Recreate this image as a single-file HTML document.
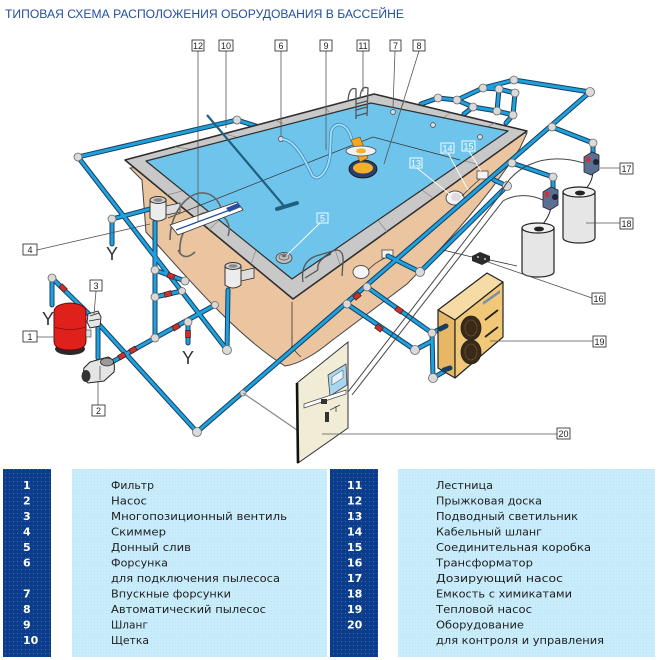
<!DOCTYPE html>
<html><head><meta charset="utf-8"><style>
html,body{margin:0;padding:0;background:#fff;}
svg{display:block}
.po{fill:none;stroke:#163e60;stroke-width:5;stroke-linecap:round;stroke-linejoin:round}
.pi{fill:none;stroke:#1ea1dd;stroke-width:3;stroke-linecap:round;stroke-linejoin:round}
.jt{fill:#dadada;stroke:#6a6a6a;stroke-width:.8}
.ld{fill:none;stroke:#555;stroke-width:.8}
.lb{fill:#fff;stroke:#222;stroke-width:.8}
.lt{font-family:"Liberation Sans","DejaVu Sans",sans-serif;font-size:9px;fill:#222;text-anchor:middle}
.wt{font-family:"Liberation Sans","DejaVu Sans",sans-serif;font-size:9px;fill:#fff;text-anchor:middle}
.lg{font-family:"DejaVu Sans","Liberation Sans",sans-serif;font-size:11px;fill:#1e1e1e}
.nm{font-family:"DejaVu Sans","Liberation Sans",sans-serif;font-size:11px;fill:#fff;font-weight:bold}
.vl{fill:#c8302c;stroke:#3a1010;stroke-width:.6}
</style></head><body>
<svg width="660" height="660" viewBox="0 0 660 660" xmlns="http://www.w3.org/2000/svg">
<defs>
<pattern id="dots" width="4" height="4" patternUnits="userSpaceOnUse">
<rect width="4" height="4" fill="#0b3d8c"/>
<rect x="1" y="1" width="1" height="1" fill="#3b6cb3"/>
</pattern>
<pattern id="lite" width="3" height="3" patternUnits="userSpaceOnUse">
<rect width="3" height="3" fill="#c9ecfb"/>
<rect x="1" y="1" width="1" height="1" fill="#b9e3f7"/>
</pattern>
</defs>
<rect width="660" height="660" fill="#fff"/>

<!-- Title -->
<text x="5" y="18" font-family="Liberation Sans, DejaVu Sans, sans-serif" font-size="11.5" fill="#234f9a" textLength="399" lengthAdjust="spacingAndGlyphs">ТИПОВАЯ СХЕМА РАСПОЛОЖЕНИЯ ОБОРУДОВАНИЯ В БАССЕЙНЕ</text>

<!-- pipes behind deck (top left and jets manifold) -->
<path class="po" d="M78,157 L237,120 L256,126 M590,92 L514,80 L483,88 L457,100 L438,98 L421,104 M457,100 L473,107 L497,111 L513,115 L506,123 M483,88 L499,89 L515,93 L513,115 M499,89 L497,111 M473,107 L464,114"/>
<path class="pi" d="M78,157 L237,120 L256,126 M590,92 L514,80 L483,88 L457,100 L438,98 L421,104 M457,100 L473,107 L497,111 L513,115 L506,123 M483,88 L499,89 L515,93 L513,115 M499,89 L497,111 M473,107 L464,114"/>

<!-- Wall -->
<path d="M130,168 L142,180 L146,232 C185,275 235,335 285,366 C300,364 318,352 330,342 L407,284 C450,240 490,195 520,148 L527,133 Z" fill="#eac5a0" stroke="#444" stroke-width="1"/>
<path d="M292,302 L292,346 M292,346 Q290,352 283,357 M292,346 Q295,352 301,357" stroke="#333" fill="none" stroke-width="0.8"/>

<!-- Deck -->
<path d="M125,160 L374,94 L527,131 L293,299 Z" fill="#c8c8c8" stroke="#2e2e2e" stroke-width="1.6" stroke-linejoin="round"/>
<path d="M167,195 L182,191 M209,230 L219,220 M251,264 L256,250 M340,265 L335,249 M387,232 L378,220 M433,198 L422,190 M480,165 L465,161 M175,147 L190,149 M225,134 L236,137 M275,120 L283,124 M325,107 L329,112 M405,101 L401,108 M450,113 L443,118 M495,123 L487,127" stroke="#8a8a8a" stroke-width=".7"/>
<!-- Water -->
<path d="M146,161 L371,103 L508,131 L292,279 Z" fill="#6fc4ec" stroke="#2e2e2e" stroke-width="1.2" stroke-linejoin="round"/>
<path d="M168,218 L373,137 L460,160" stroke="#333" stroke-width=".7" fill="none"/>

<!-- jets -->
<g fill="#dcdcdc" stroke="#444" stroke-width=".7">
<circle cx="281" cy="139" r="2.6"/><circle cx="393" cy="112" r="2.4"/><circle cx="433" cy="125" r="2.4"/><circle cx="480" cy="137" r="2.4"/>
</g>
<!-- drain -->
<ellipse cx="284" cy="258" rx="8" ry="5.5" fill="#bdbdbd" stroke="#444" stroke-width=".8"/>
<ellipse cx="284" cy="257" rx="5" ry="3" fill="none" stroke="#555" stroke-width=".7"/>
<ellipse cx="284" cy="256" rx="2" ry="1.2" fill="#666"/>

<!-- brush 10 -->
<path d="M207,115 L284,206" stroke="#1f5f80" stroke-width="2.2"/>
<path d="M277,209 L297,203" stroke="#1f5f80" stroke-width="4" stroke-linecap="round"/>

<!-- hose 9 -->
<path d="M282,139 C295,140 305,160 312,175 C318,183 328,172 330,155 L331,132 C334,121 348,121 352,141" fill="none" stroke="#3b8fc4" stroke-width="3.4"/>
<path d="M282,139 C295,140 305,160 312,175 C318,183 328,172 330,155 L331,132 C334,121 348,121 352,141" fill="none" stroke="#a9def6" stroke-width="1.8"/>

<!-- cleaner 8 -->
<ellipse cx="363" cy="169" rx="14" ry="9" fill="#2a3f6c" stroke="#111" stroke-width=".8"/>
<ellipse cx="363" cy="168" rx="10" ry="5.5" fill="#f4b02a"/>
<path d="M351,140 L360,137 L368,158 L360,162 Z" fill="#f2a623" stroke="#6a4a10" stroke-width=".6"/>
<ellipse cx="361" cy="151" rx="15" ry="5" fill="#eef2f4" stroke="#445" stroke-width=".8"/>
<ellipse cx="361" cy="151" rx="5" ry="2.5" fill="#f4b02a"/>

<!-- ladder 11 -->
<path d="M348,101 Q349,86 356,89 L356,119 M360,98 Q361,85 368,88 L367,116 M356,104 L367,101 M356,110 L367,107 M356,116 L367,113" stroke="#555" stroke-width="1.3" fill="none"/>
<!-- ladder front -->
<path d="M303,282 Q300,262 316,256 L336,250 Q344,250 343,262 L342,276 M318,270 Q316,260 331,254 M305,278 L318,270" stroke="#555" stroke-width="1.3" fill="none"/>

<!-- lights / boxes -->
<ellipse cx="455" cy="198" rx="9" ry="7" fill="#f5f5f5" stroke="#555" stroke-width="1"/>
<ellipse cx="456" cy="197" rx="5" ry="4" fill="#dcdcdc"/>
<ellipse cx="361" cy="272" rx="8" ry="6.5" fill="#f5f5f5" stroke="#555" stroke-width="1"/>
<path d="M462,196 Q472,186 480,179 M368,270 Q376,262 385,258" stroke="#333" stroke-width=".8" fill="none"/>
<rect x="477" y="171" width="11" height="8" fill="#f3f3f3" stroke="#444" stroke-width=".8"/>
<rect x="382" y="250" width="11" height="8" fill="#f3f3f3" stroke="#444" stroke-width=".8"/>

<!-- main pipes in front -->
<path class="po" d="M78,157 L227,350 L228,290 M150,209 L112,219 L112,244 M155,222 L155,338 L112,362 M155,270 L185,281 M155,297 L182,291 M155,338 L215,305 M188,322 L188,343 M52,305 L52,278 L95,320 L197,432 L590,92 M367,287 L432,333 L446,326 M347,304 L415,350 L432,341 M432,333 L433,378 L450,368 M388,256 L420,272 L507,186 L494,180 M552,127 L593,143 L593,155 M512,163 L553,177 L553,190 M98,328 L98,358"/>
<path class="pi" d="M78,157 L227,350 L228,290 M150,209 L112,219 L112,244 M155,222 L155,338 L112,362 M155,270 L185,281 M155,297 L182,291 M155,338 L215,305 M188,322 L188,343 M52,305 L52,278 L95,320 L197,432 L590,92 M367,287 L432,333 L446,326 M347,304 L415,350 L432,341 M432,333 L433,378 L450,368 M388,256 L420,272 L507,186 L494,180 M552,127 L593,143 L593,155 M512,163 L553,177 L553,190 M98,328 L98,358"/>

<!-- joints -->
<g class="jt">
<circle cx="78" cy="157" r="4"/><circle cx="237" cy="120" r="4"/><circle cx="112" cy="219" r="4"/><circle cx="155" cy="270" r="4"/><circle cx="155" cy="297" r="4"/><circle cx="155" cy="338" r="4"/><circle cx="185" cy="281" r="4"/><circle cx="182" cy="291" r="3.5"/><circle cx="227" cy="350" r="4.5"/><circle cx="197" cy="432" r="4.5"/><circle cx="347" cy="304" r="4"/><circle cx="367" cy="287" r="4"/><circle cx="415" cy="350" r="4.5"/><circle cx="432" cy="333" r="4"/><circle cx="433" cy="378" r="4.5"/><circle cx="420" cy="272" r="4.5"/><circle cx="507" cy="186" r="4.5"/><circle cx="590" cy="92" r="4.5"/><circle cx="514" cy="80" r="4"/><circle cx="483" cy="88" r="4"/><circle cx="457" cy="100" r="4"/><circle cx="438" cy="98" r="4"/><circle cx="473" cy="107" r="4"/><circle cx="497" cy="111" r="4"/><circle cx="513" cy="115" r="4"/><circle cx="499" cy="89" r="4"/><circle cx="515" cy="93" r="4"/><circle cx="552" cy="127" r="4"/><circle cx="512" cy="163" r="4"/><circle cx="593" cy="143" r="4"/><circle cx="553" cy="177" r="4"/><circle cx="52" cy="278" r="4"/><circle cx="188" cy="322" r="4"/><circle cx="243" cy="393" r="3"/><circle cx="215" cy="305" r="3.5"/>
</g>
<!-- valves -->
<g class="vl">
<rect x="-3.5" y="-2.5" width="7" height="5" transform="translate(63,288) rotate(45)"/>
<rect x="-3.5" y="-2.5" width="7" height="5" transform="translate(171,276) rotate(20)"/>
<rect x="-3.5" y="-2.5" width="7" height="5" transform="translate(168,294) rotate(-15)"/>
<rect x="-3.5" y="-2.5" width="7" height="5" transform="translate(176,327) rotate(-30)"/>
<rect x="-3.5" y="-2.5" width="7" height="5" transform="translate(133,350) rotate(-30)"/>
<rect x="-3.5" y="-2.5" width="7" height="5" transform="translate(122,356) rotate(-30)"/>
<rect x="-3.5" y="-2.5" width="7" height="5" transform="translate(188,334) rotate(90)"/>
<rect x="-3.5" y="-2.5" width="7" height="5" transform="translate(379,328) rotate(35)"/>
<rect x="-3.5" y="-2.5" width="7" height="5" transform="translate(399,310) rotate(35)"/>
<rect x="-3.5" y="-2.5" width="7" height="5" transform="translate(357,296) rotate(-40)"/>
</g>

<!-- Y symbols -->
<g font-family="Liberation Sans, DejaVu Sans, sans-serif" font-size="18" fill="#333" text-anchor="middle">
<text x="112" y="260">Y</text><text x="48" y="325">Y</text><text x="188" y="364">Y</text>
</g>

<!-- skimmers -->
<g stroke="#333" stroke-width="1">
<path d="M166,206 L180,203 L180,212 L166,215 Z" fill="#ddd" stroke-width=".8"/>
<path d="M150,200 L150,218 Q158,224 166,218 L166,200 Z" fill="#ececec"/>
<ellipse cx="158" cy="200" rx="8" ry="3.5" fill="#cfcfcf"/>
<ellipse cx="158" cy="200" rx="4.5" ry="1.8" fill="#888" stroke="none"/>
<path d="M241,271 L254,268 L254,278 L241,281 Z" fill="#ddd" stroke-width=".8"/>
<path d="M225,266 L225,285 Q233,291 241,285 L241,266 Z" fill="#ececec"/>
<ellipse cx="233" cy="266" rx="8" ry="3.5" fill="#cfcfcf"/>
<ellipse cx="233" cy="266" rx="4.5" ry="1.8" fill="#888" stroke="none"/>
</g>

<!-- diving board -->
<path d="M170,240 C170,215 185,195 200,193 C215,192 222,205 222,215 M180,254 C178,230 195,212 210,212 C225,212 232,225 228,236 M178,250 Q184,262 195,252" stroke="#666" stroke-width="1.6" fill="none"/>
<path d="M170,225 L237,202 L243,210 L178,235 Z" fill="#fff" stroke="#333" stroke-width=".8"/>
<path d="M176,230 L238,207" stroke="#2a4fa0" stroke-width="1.2"/>
<path d="M226,208 L238,203 L241,207 L229,212 Z" fill="#2a4fa0"/>

<!-- filter 1 -->
<ellipse cx="70" cy="349" rx="15" ry="6" fill="#2a2a2a"/>
<path d="M54,312 Q54,304 70,303 Q86,304 86,312 L86,341 Q86,350 70,350 Q54,350 54,341 Z" fill="#e0201b" stroke="#6a0808" stroke-width="1"/>
<path d="M54,327 Q70,332 86,327" stroke="#8b0c0a" fill="none" stroke-width=".8"/>
<rect x="86" y="330" width="5" height="7" fill="#ddd" stroke="#333" stroke-width=".6"/>
<!-- valve 3 -->
<path d="M88,314 L98,311 L101,317 L100,326 L90,328 L87,322 Z" fill="#e6e6e6" stroke="#222" stroke-width=".9"/>
<path d="M90,316 L99,313 M89,321 L100,319" stroke="#222" stroke-width=".8"/>
<!-- pump 2 -->
<path d="M90,362 L108,357 Q116,360 114,372 L104,381 L88,383 Q82,377 84,368 Z" fill="#e4e4e4" stroke="#222" stroke-width="1"/>
<ellipse cx="86" cy="376" rx="4.5" ry="6" fill="#333"/>
<ellipse cx="107" cy="362" rx="6.5" ry="4" fill="#9a9a9a" stroke="#222" stroke-width=".8"/>
<path d="M100,366 L100,380" stroke="#555" stroke-width=".8"/>

<!-- heat pump 19 -->
<path d="M438,310 L487,273 L503,282 L455,320 Z" fill="#f7dba4" stroke="#222" stroke-width="1.2" stroke-linejoin="round"/>
<path d="M438,310 L455,320 L455,378 L438,368 Z" fill="#e6b866" stroke="#222" stroke-width="1.2" stroke-linejoin="round"/>
<path d="M455,320 L503,282 L503,337 L455,378 Z" fill="#f0c878" stroke="#222" stroke-width="1.2" stroke-linejoin="round"/>
<ellipse cx="471" cy="328" rx="10" ry="12" fill="#3b2a18" stroke="#222" stroke-width=".8"/>
<ellipse cx="471" cy="328" rx="6" ry="8" fill="none" stroke="#6b5030" stroke-width=".8"/>
<ellipse cx="471" cy="352" rx="10" ry="12" fill="#3b2a18" stroke="#222" stroke-width=".8"/>
<ellipse cx="471" cy="352" rx="6" ry="8" fill="none" stroke="#6b5030" stroke-width=".8"/>
<path d="M485,320 L498,310 M485,337 L498,327" stroke="#222" stroke-width="1.8"/>
<path d="M483,302 L500,290 L500,293 L483,305 Z" fill="#7a8fb0"/>
<path class="po" d="M440,329 L446,326 M444,370 L450,368"/>

<!-- transformer 16 -->
<path d="M443,250 L472,257 M490,260 L517,266" stroke="#333" stroke-width=".8"/>
<path d="M472,256 L480,252 L490,256 L490,261 L482,265 L472,261 Z" fill="#2b2b2b"/>
<circle cx="478" cy="257" r="1" fill="#ccc"/><circle cx="485" cy="259" r="1" fill="#ccc"/>

<!-- cables -->
<path d="M348,392 L500,195 C510,170 540,150 584,163 M352,395 L503,201 C515,194 530,194 543,200" stroke="#444" stroke-width="1" fill="none"/>
<path d="M593,172 Q592,185 581,193 M551,208 Q548,220 539,228" stroke="#222" stroke-width="1" fill="none"/>
<path d="M243,393 L297,430 L330,412" stroke="#888" stroke-width="1.2" fill="none"/>

<!-- tanks 18 -->
<path d="M563,192 L563,238 A16,5 0 0 0 595,238 L595,192 Z" fill="#e6e6e6" stroke="#222" stroke-width="1.2"/>
<ellipse cx="579" cy="192" rx="16" ry="5" fill="#f0f0f0" stroke="#222" stroke-width="1.2"/>
<ellipse cx="580" cy="193" rx="5" ry="2.4" fill="#222"/>
<path d="M522,228 L522,272 A16,5 0 0 0 554,272 L554,228 Z" fill="#e6e6e6" stroke="#222" stroke-width="1.2"/>
<ellipse cx="538" cy="228" rx="16" ry="5" fill="#f0f0f0" stroke="#222" stroke-width="1.2"/>
<ellipse cx="539" cy="229" rx="5" ry="2.4" fill="#222"/>

<!-- dosing pumps 17 -->
<path d="M584,157 L592,152 L599,155 L599,170 L591,175 L584,172 Z" fill="#5b6f92" stroke="#223" stroke-width=".8"/>
<rect x="586" y="157" width="4" height="5" fill="#c33"/>
<circle cx="596" cy="162" r="3" fill="#1c2538"/>
<path d="M543,192 L551,187 L558,190 L558,205 L550,210 L543,207 Z" fill="#5b6f92" stroke="#223" stroke-width=".8"/>
<rect x="545" y="192" width="4" height="5" fill="#c33"/>
<circle cx="555" cy="197" r="3" fill="#1c2538"/>

<!-- control panel 20 -->
<path d="M297,383 L348,342 L348,428 L298,463 Z" fill="#f1ecd6" stroke="#333" stroke-width="1"/>
<path d="M297,383 L298,463" stroke="#111" stroke-width="2.6"/>
<path d="M328,375 L346,364 L347,385 L330,396 Z" fill="#a6d6f0" stroke="#444" stroke-width=".8"/>
<path d="M332,377 L343,370 L343,378 L332,385 Z" fill="#e6f3fa" stroke="#444" stroke-width=".5"/>
<path d="M304,404 L346,390 L346,394 L304,408 Z" fill="#fff" stroke="#444" stroke-width=".7"/>
<rect x="321" y="399" width="6" height="5" fill="#333"/>
<rect x="325" y="412" width="4" height="10" fill="#333"/>
<path d="M330,410 L340,405 M336,406 L336,412" stroke="#444" stroke-width=".8"/>

<!-- leader lines -->
<path class="ld" d="M198,51 L198,222 M226,51 L226,128 M281,51 L281,136 M326,51 L326,150 M363,51 L363,92 M395,51 L393,108 M419,51 L384,164 M37,250 L150,224 M37,337 L55,337 M96,291 L94,314 M98,405 L98,382 M600,168 L620,168 M586,223 L620,223 M488,262 L592,298 M490,341 L593,341 M322,434 L557,434"/>
<path d="M320,223 L287,255 M417,168 L452,196 M448,153 L468,190 M469,151 L481,171" stroke="#fff" stroke-width=".9" fill="none"/>

<!-- labels -->
<g>
<rect class="lb" x="192" y="40" width="12" height="11"/><text class="lt" x="198" y="49">12</text>
<rect class="lb" x="219" y="40" width="14" height="11"/><text class="lt" x="226" y="49">10</text>
<rect class="lb" x="275" y="40" width="12" height="11"/><text class="lt" x="281" y="49">6</text>
<rect class="lb" x="320" y="40" width="12" height="11"/><text class="lt" x="326" y="49">9</text>
<rect class="lb" x="357" y="40" width="12" height="11"/><text class="lt" x="363" y="49">11</text>
<rect class="lb" x="390" y="40" width="11" height="11"/><text class="lt" x="395.5" y="49">7</text>
<rect class="lb" x="413" y="40" width="12" height="11"/><text class="lt" x="419" y="49">8</text>
<rect class="lb" x="23" y="244" width="14" height="11"/><text class="lt" x="30" y="253">4</text>
<rect class="lb" x="23" y="331" width="14" height="11"/><text class="lt" x="30" y="340">1</text>
<rect class="lb" x="90" y="280" width="12" height="11"/><text class="lt" x="96" y="289">3</text>
<rect class="lb" x="92" y="405" width="13" height="11"/><text class="lt" x="98.5" y="414">2</text>
<rect class="lb" x="620" y="163" width="13" height="11"/><text class="lt" x="626.5" y="172">17</text>
<rect class="lb" x="620" y="218" width="13" height="11"/><text class="lt" x="626.5" y="227">18</text>
<rect class="lb" x="592" y="293" width="13" height="11"/><text class="lt" x="598.5" y="302">16</text>
<rect class="lb" x="593" y="336" width="13" height="11"/><text class="lt" x="599.5" y="345">19</text>
<rect class="lb" x="557" y="428" width="13" height="11"/><text class="lt" x="563.5" y="437">20</text>
</g>
<g fill="none" stroke="#fff" stroke-width=".9">
<rect x="317" y="213" width="11" height="10"/><rect x="410" y="158" width="12" height="10"/><rect x="441" y="143" width="13" height="10"/><rect x="462" y="141" width="13" height="10"/>
</g>
<text class="wt" x="322.5" y="221.5">5</text>
<text class="wt" x="416" y="166.5">13</text>
<text class="wt" x="447.5" y="151.5">14</text>
<text class="wt" x="468.5" y="149.5">15</text>

<!-- Legend -->
<rect x="3" y="469" width="48" height="188" fill="url(#dots)"/>
<rect x="72" y="469" width="255" height="188" fill="url(#lite)"/>
<rect x="330" y="469" width="48" height="188" fill="url(#dots)"/>
<rect x="398" y="469" width="257" height="188" fill="url(#lite)"/>

<g class="nm">
<text x="23" y="489">1</text><text x="23" y="504.5">2</text><text x="23" y="520">3</text><text x="23" y="535.5">4</text><text x="23" y="551">5</text><text x="23" y="566.5">6</text><text x="23" y="597.5">7</text><text x="23" y="613">8</text><text x="23" y="628.5">9</text><text x="23" y="644">10</text>
<text x="347" y="489">11</text><text x="347" y="504.5">12</text><text x="347" y="520">13</text><text x="347" y="535.5">14</text><text x="347" y="551">15</text><text x="347" y="566.5">16</text><text x="347" y="582">17</text><text x="347" y="597.5">18</text><text x="347" y="613">19</text><text x="347" y="628.5">20</text>
</g>
<g class="lg">
<text x="111" y="489" textLength="43" lengthAdjust="spacingAndGlyphs">Фильтр</text>
<text x="111" y="504.5" textLength="36" lengthAdjust="spacingAndGlyphs">Насос</text>
<text x="111" y="520" textLength="176" lengthAdjust="spacingAndGlyphs">Многопозиционный вентиль</text>
<text x="111" y="535.5" textLength="55" lengthAdjust="spacingAndGlyphs">Скиммер</text>
<text x="111" y="551" textLength="80" lengthAdjust="spacingAndGlyphs">Донный слив</text>
<text x="111" y="566.5" textLength="57" lengthAdjust="spacingAndGlyphs">Форсунка</text>
<text x="111" y="582" textLength="169" lengthAdjust="spacingAndGlyphs">для подключения пылесоса</text>
<text x="111" y="597.5" textLength="120" lengthAdjust="spacingAndGlyphs">Впускные форсунки</text>
<text x="111" y="613" textLength="155" lengthAdjust="spacingAndGlyphs">Автоматический пылесос</text>
<text x="111" y="628.5" textLength="37" lengthAdjust="spacingAndGlyphs">Шланг</text>
<text x="111" y="644" textLength="38" lengthAdjust="spacingAndGlyphs">Щетка</text>
<text x="436" y="489" textLength="57" lengthAdjust="spacingAndGlyphs">Лестница</text>
<text x="436" y="504.5" textLength="106" lengthAdjust="spacingAndGlyphs">Прыжковая доска</text>
<text x="436" y="520" textLength="142" lengthAdjust="spacingAndGlyphs">Подводный светильник</text>
<text x="436" y="535.5" textLength="106" lengthAdjust="spacingAndGlyphs">Кабельный шланг</text>
<text x="436" y="551" textLength="155" lengthAdjust="spacingAndGlyphs">Соединительная коробка</text>
<text x="436" y="566.5" textLength="97" lengthAdjust="spacingAndGlyphs">Трансформатор</text>
<text x="436" y="582" textLength="127" lengthAdjust="spacingAndGlyphs">Дозирующий насос</text>
<text x="436" y="597.5" textLength="136" lengthAdjust="spacingAndGlyphs">Емкость с химикатами</text>
<text x="436" y="613" textLength="96" lengthAdjust="spacingAndGlyphs">Тепловой насос</text>
<text x="436" y="628.5" textLength="88" lengthAdjust="spacingAndGlyphs">Оборудование</text>
<text x="436" y="644" textLength="168" lengthAdjust="spacingAndGlyphs">для контроля и управления</text>
</g>
</svg>
</body></html>
